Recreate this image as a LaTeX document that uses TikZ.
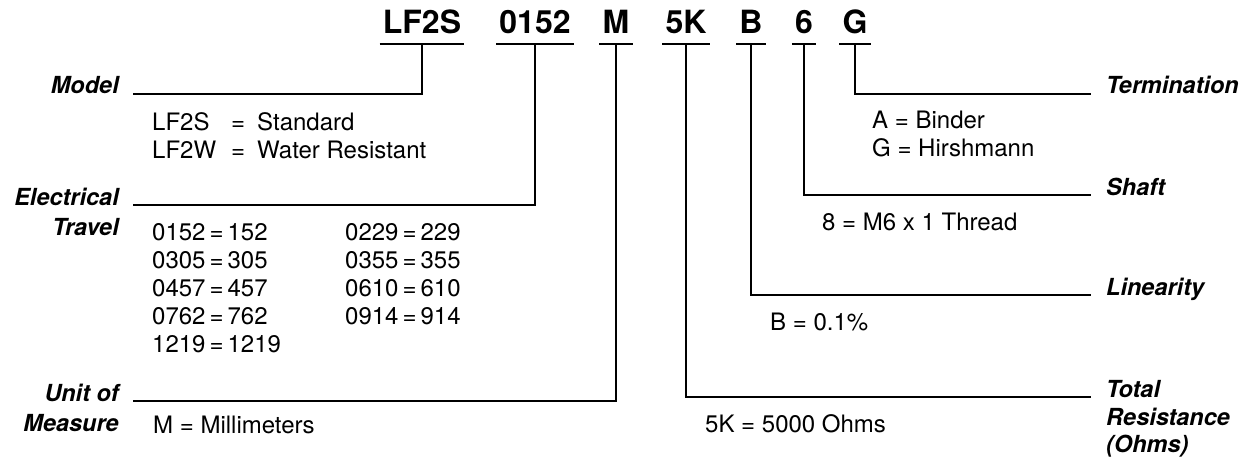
\documentclass[tikz,border=0pt]{standalone}
\usepackage{fontspec}
\setmainfont{TeX Gyre Heros}
\usepackage{tikz}
\usetikzlibrary{positioning}

\begin{document}
\begin{tikzpicture}[x=1pt,y=-1pt,every node/.style={inner sep=0pt,font=\fontsize{24}{28}\selectfont}]
   \tikzstyle{k}=[anchor=base,inner xsep=3pt,text depth=10pt,font=\fontsize{32}{36}\selectfont\bfseries];
   \tikzstyle{lw}=[anchor=base east,font=\fontsize{23.5}{28}\selectfont\bfseries\itshape];
   \tikzstyle{le}=[anchor=base west,font=\fontsize{23.5}{28}\selectfont\bfseries\itshape];
   \tikzstyle{d}=[anchor=base west];
   \tikzstyle{l}=[draw,line width=2pt];
   \useasboundingbox (0,0) rectangle (1246,457);
   % part number
   \node[k] (kmod)  at (422,34) {LF2S};
   \node[k] (ktrv)  at (535,34) {0152};
   \node[k] (kunit) at (616,34) {M};
   \node[k] (kres)  at (686,34) {5K};
   \node[k] (klin)  at (751,34) {B};
   \node[k] (kshf)  at (804,34) {6};
   \node[k] (kterm) at (855,34) {G};
   \foreach \n in {kmod,ktrv,kunit,kres,klin,kshf,kterm}
     \draw[l] (\n.south west) -- (\n.south east);
   % left labels
   \node[lw] (lmod)   at (119,94)  {Model};
   \node[lw] (ltrv)   at (119,205) {Electrical};
   \node[lw] (ltrv2)  at (119,235) {Travel};
   \node[lw] (lunit)  at (119,401) {Unit of};
   \node[lw] (lunit2) at (119,431) {Measure};
   % right labels
   \node[le] (lterm) at (1106,94)  {Termination};
   \node[le] (lshf)  at (1106,195) {Shaft};
   \node[le] (llin)  at (1106,295) {Linearity};
   \node[le] (lres)  at (1106,397) {Total};
   \node[le] (lres2) at (1106,425) {Resistance};
   \node[le] (lres3) at (1106,452) {(Ohms)};
   \draw[l] (kmod.south)  |- ([xshift=14pt]lmod.base east);
   \draw[l] (ktrv.south)  |- ([xshift=14pt]ltrv.base east);
   \draw[l] (kunit.south) |- ([xshift=14pt]lunit.base east);
   \draw[l] (kterm.south) |- ([xshift=-15pt]lterm.base west);
   \draw[l] (kshf.south)  |- ([xshift=-15pt]lshf.base west);
   \draw[l] (klin.south)  |- ([xshift=-15pt]llin.base west);
   \draw[l] (kres.south)  |- ([xshift=-15pt]lres.base west);
   % options
   \node[d] (dmod) at (152,131) {\begin{tabular}[t]{@{}l@{\hspace{15pt}}l@{\hspace{12pt}}l@{}}
      LF2S & = & Standard\\ LF2W & = & Water Resistant\end{tabular}};
   \node[d] (dtrv) at (152,240) {\begin{tabular}[t]{@{}p{193pt}@{}l@{}}
      0152\,=\,152 & 0229\,=\,229\\
      0305\,=\,305 & 0355\,=\,355\\
      0457\,=\,457 & 0610\,=\,610\\
      0762\,=\,762 & 0914\,=\,914\\
      1219\,=\,1219 & \end{tabular}};
   \node[d] (dunit) at (153,433) {M = Millimeters};
   \node[d] (dterm) at (872,129) {\begin{tabular}[t]{@{}l@{}}A = Binder\\ G = Hirshmann\end{tabular}};
   \node[d] (dshf)  at (822,230) {8 = M6 x 1 Thread};
   \node[d] (dlin)  at (770,330) {B = 0.1\%};
   \node[d] (dres)  at (705,432) {5K = 5000 Ohms};
\end{tikzpicture}
\end{document}
